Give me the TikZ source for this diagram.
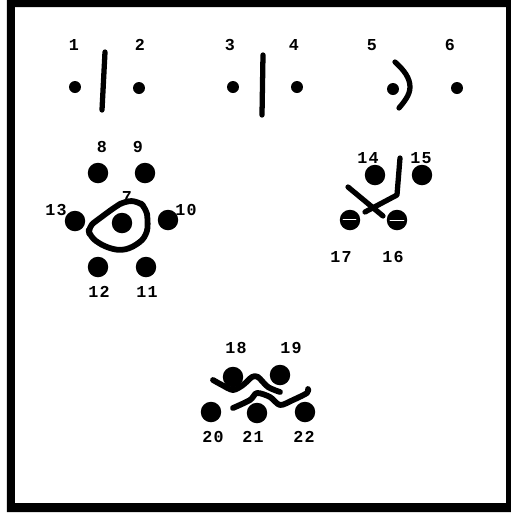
\documentclass[tikz,border=0pt]{standalone}
\usepackage{fontspec}
\newfontfamily\numfont[LetterSpace=8]{Liberation Mono}
\usetikzlibrary{positioning}
\definecolor{inkblack}{HTML}{000000}

\begin{document}
\begin{tikzpicture}[x=0.02cm, y=-0.02cm, line cap=round, line join=round,
  spot/.style={circle, fill=inkblack, inner sep=0pt, minimum size=0.24cm},
  bigspot/.style={circle, fill=inkblack, inner sep=0pt, minimum size=0.41cm},
  num/.style={font=\numfont\bfseries\fontsize{9.5}{9.5}\selectfont, inner sep=0pt},
  stroke/.style={inkblack, line width=3pt}]
  \useasboundingbox (0,0) rectangle (511,515);
  % frame
  \fill[inkblack, even odd rule] (7,0) rectangle (511,512) (15,7) rectangle (506,503);

  % top row
  \node[spot] (d1) at (75,87) {};
  \node[spot] (d2) at (139,88) {};
  \node[spot] (d3) at (233,87) {};
  \node[spot] (d4) at (297,87) {};
  \node[spot] (d5) at (393,89) {};
  \node[spot] (d6) at (457,88) {};
  \node[num] (n1) at (74,45) {1};
  \node[num] (n2) at (140,45) {2};
  \node[num] (n3) at (230,45) {3};
  \node[num] (n4) at (294,45) {4};
  \node[num] (n5) at (372,45) {5};
  \node[num] (n6) at (450,45) {6};
  \draw[stroke] (105,52) -- (102,110);
  \draw[stroke] (263,55) -- (262,115);
  \draw[stroke] (395,62) .. controls (404,70) and (410,78) .. (410,87)
    .. controls (410,95) and (404,102) .. (399,108);

  % ring of six round 7
  \node[bigspot] (d7) at (122,223) {};
  \node[bigspot] (d8) at (98,173) {};
  \node[bigspot] (d9) at (145,173) {};
  \node[bigspot] (d10) at (168,220) {};
  \node[bigspot] (d11) at (146,267) {};
  \node[bigspot] (d12) at (98,267) {};
  \node[bigspot] (d13) at (75,221) {};
  \node[num] (n7) at (127,197) {7};
  \node[num] (n8) at (102,147) {8};
  \node[num] (n9) at (138,147) {9};
  \node[num] (n10) at (186,210) {10};
  \node[num] (n11) at (147,292) {11};
  \node[num] (n12) at (99,292) {12};
  \node[num] (n13) at (56,210) {13};
  \draw[stroke, line width=3.3pt, rounded corners=4pt] (88,227) -- (115,207) -- (125,201)
    -- (138,201) -- (146,208) -- (148,220) -- (147,235) -- (137,245) -- (122,251)
    -- (105,247) -- (90,237) -- cycle;

  % four with crossing strokes
  \node[bigspot] (d14) at (375,175) {};
  \node[bigspot] (d15) at (422,175) {};
  \node[bigspot] (d16) at (397,220) {};
  \node[bigspot] (d17) at (350,220) {};
  \node[num] (n14) at (368,158) {14};
  \node[num] (n15) at (421,158) {15};
  \node[num] (n16) at (393,257) {16};
  \node[num] (n17) at (341,257) {17};
  \draw[white, line width=0.5pt] (343,219) -- (356,219);
  \draw[white, line width=0.5pt] (390,220) -- (404,220);
  \draw[stroke] (348,187) -- (383,216);
  \draw[stroke] (400,158) -- (397,195) -- (365,212);

  % row of five with wavy strokes
  \node[bigspot] (d18) at (233,377) {};
  \node[bigspot] (d19) at (280,375) {};
  \node[bigspot] (d20) at (211,412) {};
  \node[bigspot] (d21) at (257,413) {};
  \node[bigspot] (d22) at (305,412) {};
  \node[num] (n18) at (236,348) {18};
  \node[num] (n19) at (291,348) {19};
  \node[num] (n20) at (213,437) {20};
  \node[num] (n21) at (253,437) {21};
  \node[num] (n22) at (304,437) {22};
  \draw[stroke, line width=3.3pt] plot[smooth, tension=0.5] coordinates {(213,380) (222,385)
    (233,390) (243,385) (252,377) (258,377) (268,387) (280,392)};
  \draw[stroke, line width=3.3pt] plot[smooth, tension=0.5] coordinates {(233,408) (250,400)
    (257,393) (270,397) (280,405) (293,400) (307,393) (308,389)};
\end{tikzpicture}
\end{document}
